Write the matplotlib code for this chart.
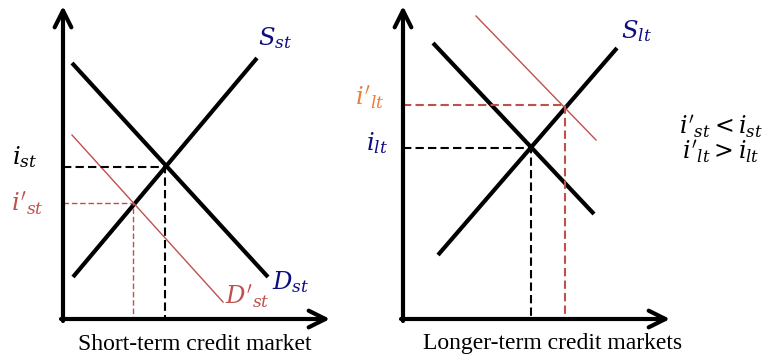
import matplotlib.pyplot as plt

plt.rcParams['mathtext.fontset'] = 'dejavuserif'

NAVY = '#0d0d80'
RED = '#c0504d'
ORANGE = '#f07c3c'

# diagram coordinates (pixel-like units, y pointing up)
# short-term market
s_st_x, s_st_y = [73, 257], [81, 300]
d_st_x, d_st_y = [72, 268], [295, 81]
d2_st_x, d2_st_y = [72, 223], [223, 56]
eq_st = (165, 191)
eq2_st = (133, 155)

# longer-term market
s_lt_x, s_lt_y = [438, 617], [103, 310]
d_lt_x, d_lt_y = [433, 594], [315, 144]
d2_lt_x, d2_lt_y = [476, 596], [342, 218]
eq_lt = (531, 210)
eq2_lt = (565, 253)

origin_y = 39
left_x0, left_x1 = 63, 330
right_x0, right_x1 = 403, 670
top_y = 352

fig = plt.figure(figsize=(7.69, 3.58), dpi=100)
ax = fig.add_axes([0, 0, 1, 1])
ax.set_xlim(0, 769)
ax.set_ylim(0, 358)
ax.axis('off')

# axes with open arrow heads
for x0, x1 in [(left_x0, left_x1), (right_x0, right_x1)]:
    ax.annotate('', xy=(x1, origin_y), xytext=(x0 - 2, origin_y),
                arrowprops=dict(arrowstyle='->', lw=3, color='black',
                                mutation_scale=30, shrinkA=0, shrinkB=0))
    ax.annotate('', xy=(x0, top_y), xytext=(x0, origin_y - 2),
                arrowprops=dict(arrowstyle='->', lw=3, color='black',
                                mutation_scale=30, shrinkA=0, shrinkB=0))

# curves
for xs, ys in [(s_st_x, s_st_y), (d_st_x, d_st_y), (s_lt_x, s_lt_y), (d_lt_x, d_lt_y)]:
    ax.plot(xs, ys, color='black', lw=3, solid_capstyle='butt')
ax.plot(d2_st_x, d2_st_y, color=RED, lw=1)
ax.plot(d2_lt_x, d2_lt_y, color=RED, lw=1)

# equilibrium guides
ax.plot([left_x0, eq_st[0], eq_st[0]], [eq_st[1], eq_st[1], origin_y],
        color='black', lw=1.5, ls=(0, (4, 2)))
ax.plot([left_x0, eq2_st[0], eq2_st[0]], [eq2_st[1], eq2_st[1], origin_y],
        color=RED, lw=1, ls=(0, (4, 2)))
ax.plot([right_x0, eq_lt[0], eq_lt[0]], [eq_lt[1], eq_lt[1], origin_y],
        color='black', lw=1.5, ls=(0, (4, 2)))
ax.plot([right_x0, eq2_lt[0], eq2_lt[0]], [eq2_lt[1], eq2_lt[1], origin_y],
        color=RED, lw=1.5, ls=(0, (4, 2)))

fs = 17.5
ax.text(275, 320, r'$S_{st}$', color=NAVY, fontsize=fs, ha='center', va='center')
ax.text(291, 76, r'$D_{st}$', color=NAVY, fontsize=fs, ha='center', va='center')
ax.text(247, 62, r"$D'_{st}$", color=RED, fontsize=fs, ha='center', va='center')
ax.text(25, 201, r'$i_{st}$', color='black', fontsize=fs, ha='center', va='center')
ax.text(27, 155, r"$i'_{st}$", color=RED, fontsize=fs, ha='center', va='center')
ax.text(370, 261, r"$i'_{lt}$", color=ORANGE, fontsize=fs, ha='center', va='center')
ax.text(377, 215, r'$i_{lt}$', color=NAVY, fontsize=fs, ha='center', va='center')
ax.text(636, 327, r'$S_{lt}$', color=NAVY, fontsize=fs, ha='center', va='center')
ax.text(721, 231, r"$i'_{st} < i_{st}$", color='black', fontsize=17, ha='center', va='center')
ax.text(721, 206, r"$i'_{lt} > i_{lt}$", color='black', fontsize=17, ha='center', va='center')

ax.text(195, 14, 'Short-term credit market', family='Liberation Serif',
        fontsize=17, ha='center', va='center')
ax.text(553, 14, 'Longer-term credit markets', family='Liberation Serif',
        fontsize=17, ha='center', va='center')

fig.savefig('out.png', dpi=100)
